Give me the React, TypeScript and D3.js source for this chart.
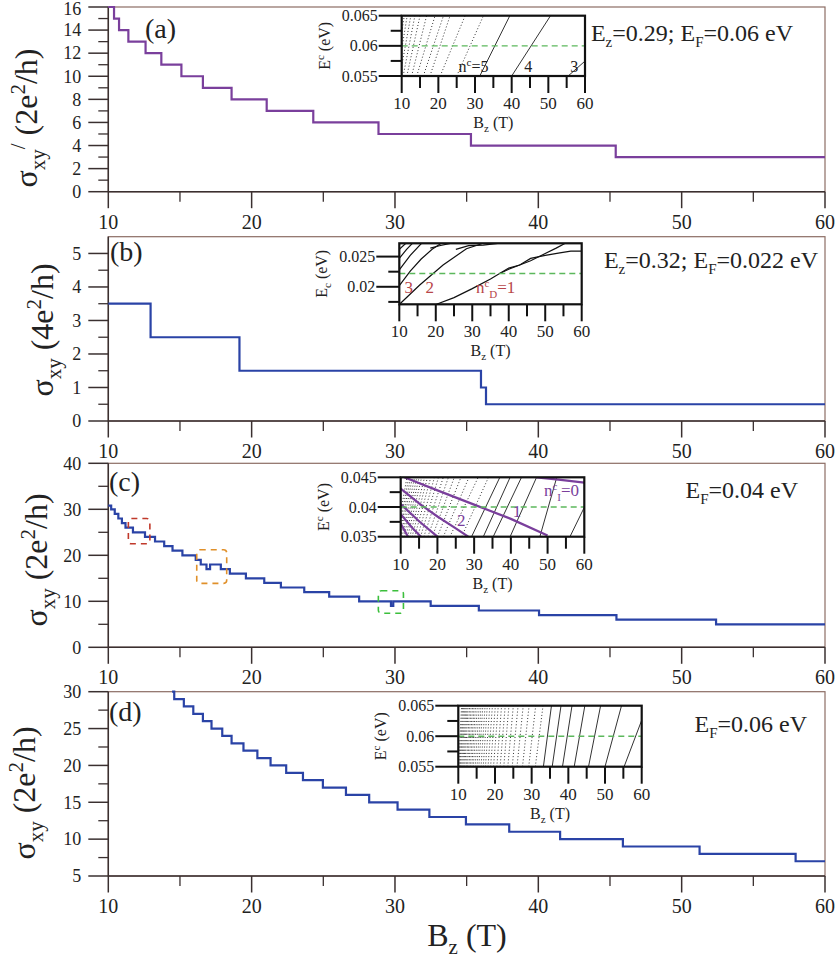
import * as d3 from "d3";

const FONT = "'Liberation Serif', 'Times New Roman', Times, serif";

// main x axis (magnetic field, T)
const bTicks = [10, 20, 30, 40, 50, 60];
const bMinorTicks = [15, 25, 35, 45, 55];

// (a) sigma_xy steps
const aSwitchB = [10, 10.4, 10.75, 11.4, 12.6, 13.7, 15.1, 16.6, 18.6, 21.05, 24.3, 28.85, 35.3, 45.4, 60];
const aLevels = [16, 15, 14, 13, 12, 11, 10, 9, 8, 7, 6, 5, 4, 3, 3];
const aYTicks = [0, 2, 4, 6, 8, 10, 12, 14, 16];
const aYMinor = [1, 3, 5, 7, 9, 11, 13, 15];

// (b)
const bSwitchB = [10, 12.95, 19.15, 36.0, 36.35, 60];
const bLevels = [3.5, 2.5, 1.5, 1.0, 0.5, 0.5];
const bYTicks = [0, 1, 2, 3, 4, 5];
const bYMinor = [0.5, 1.5, 2.5, 3.5, 4.5];

// (c)
const cSwitchB = [10, 10.2, 10.45, 10.7, 10.95, 11.2, 11.72, 12.56, 13.26, 13.9, 14.48, 15.17, 16.1, 16.45, 16.85, 17.1, 17.85, 18.48, 19.6, 20.88, 22.04, 23.67, 25.41, 27.5, 29.72, 29.88, 32.49, 35.85, 40.05, 45.45, 52.4, 60];
const cLevels = [30.8, 30, 29, 28, 27, 26, 25, 24, 23, 22, 21, 20, 19, 18, 17, 18, 17, 16, 15, 14, 13, 12, 11, 10, 9, 10, 9, 8, 7, 6, 5, 5];
const cYTicks = [0, 10, 20, 30, 40];
const cYMinor = [5, 15, 25, 35];
// highlighted regions in (c): [B0, B1, v0, v1]
const cBoxes = [
  { box: [11.4, 12.9, 22.5, 28], color: "#c0392b" },
  { box: [16.17, 18.26, 13.9, 21.2], color: "#e0902a" },
  { box: [28.84, 30.59, 7.4, 12.3], color: "#3cbf3c" },
];

// (d)
const dSwitchB = [14.45, 14.6, 15.27, 15.93, 16.6, 17.2, 17.95, 18.6, 19.43, 20.4, 21.32, 22.41, 23.58, 24.97, 26.58, 28.2, 30.18, 32.4, 34.95, 37.97, 41.52, 45.9, 51.25, 57.95, 60];
const dLevels = [30, 29, 28, 27, 26, 25, 24, 23, 22, 21, 20, 19, 18, 17, 16, 15, 14, 13, 12, 11, 10, 9, 8, 7, 7];
const dYTicks = [5, 10, 15, 20, 25, 30];
const dYMinor = [7.5, 12.5, 17.5, 22.5, 27.5];

// insets: Landau levels, [B at bottom edge, B at top edge]
const insetBTicks = [10, 20, 30, 40, 50, 60];
const insetBMinor = [15, 25, 35, 45, 55];

const aInsetE = [0.055, 0.065];
const aInsetETicks = [0.055, 0.06, 0.065];
const aInsetEMinor = [0.0575, 0.0625];
const aInsetSolid = [[55.4, 74], [40, 50.6], [31.3, 39.5]];
const aInsetDotted = [[25, 32.3], [20.5, 27.3], [17.7, 23.2], [15.9, 21.4], [14.1, 19.1], [12.7, 16.8], [11.4, 15], [10.4, 13.6], [9.5, 12.5], [8.8, 11.5], [8.2, 10.7]];

const bInsetE = [0.0171, 0.0272];
const bInsetETicks = [0.02, 0.025];
const bInsetEMinor = [0.0175, 0.0225];
const bInsetCurves = [
  [[20.2, 0.0171], [25, 0.0182], [30, 0.0197], [35, 0.0213], [37.5, 0.0222], [40, 0.0229], [43, 0.0236], [46, 0.0243], [50, 0.0255], [53, 0.0264], [55.5, 0.0272]],
  [[37.5, 0.0222], [40, 0.0231], [43, 0.0236], [46, 0.0247], [50, 0.0252], [54, 0.0256], [57, 0.0259], [60, 0.0259]],
  [[10.2, 0.0172], [15.6, 0.0203], [22, 0.0236], [28.4, 0.0263], [33, 0.0272]],
  [[25.5, 0.0262], [29, 0.0268], [33, 0.0269], [37, 0.0272]],
  [[10, 0.0202], [13, 0.0226], [16, 0.0246], [19, 0.0262], [21.5, 0.0272]],
  [[18.5, 0.0264], [21, 0.0268], [24, 0.0272]],
  [[10, 0.0228], [13, 0.0252], [16.1, 0.0272]],
  [[10, 0.0247], [12, 0.0262], [13.6, 0.0272]],
  [[10, 0.0262], [11.8, 0.0272]],
];

const cInsetE = [0.035, 0.045];
const cInsetETicks = [0.035, 0.04, 0.045];
const cInsetEMinor = [0.0375, 0.0425];
const cInsetSolid = [[56.1, 64], [47.9, 52.5], [39.8, 47], [35.2, 42.9], [32.5, 39.8], [29.3, 37]];
const cInsetDotted = [[26.6, 33.9], [23.4, 31.1], [21.6, 28.6], [20, 26.4], [18.6, 24.6], [17.4, 23], [16.3, 21.6], [15.4, 20.3], [14.6, 19.2], [13.8, 18.2], [13.1, 17.3], [12.5, 16.5], [11.9, 15.7], [11.4, 15], [10.9, 14.4], [10.4, 13.8], [10, 13.2], [9.6, 12.7], [9.2, 12.2], [8.8, 11.7]];
const cInsetPurple = [
  [[47, 0.045], [53, 0.0446], [60, 0.0441]],
  [[11, 0.045], [20, 0.0428], [30, 0.0404], [40, 0.038], [50, 0.0352]],
  [[10, 0.0431], [15, 0.0406], [20, 0.0384], [25, 0.0364], [28.4, 0.035]],
  [[10, 0.0405], [15, 0.0376], [20, 0.035]],
  [[10, 0.0388], [13, 0.0366], [15.5, 0.035]],
  [[10, 0.0372], [12, 0.035]],
];

const dInsetE = [0.055, 0.065];
const dInsetETicks = [0.055, 0.06, 0.065];
const dInsetEMinor = [0.0575, 0.0625];
const dInsetSolid = [[55.2, 61.5], [50, 54.5], [45.5, 48.8], [41.6, 44.5], [38.4, 41], [35.6, 38], [33.2, 35.4]];
const dInsetDotted = [[31, 33.1], [29.2, 31.1], [27.5, 29.3], [26, 27.7], [24.7, 26.3], [23.5, 25], [22.4, 23.8], [21.4, 22.8], [20.5, 21.8], [19.6, 20.9], [18.8, 20.1], [18.1, 19.3], [17.4, 18.6], [16.8, 17.9], [16.2, 17.3], [15.6, 16.7], [15.1, 16.2], [14.6, 15.7], [14.1, 15.2], [13.7, 14.7], [13.3, 14.3], [12.9, 13.9], [12.5, 13.5], [12.2, 13.1], [11.8, 12.7], [11.5, 12.4], [11.2, 12.1], [10.9, 11.8], [10.6, 11.5], [10.4, 11.2], [10.1, 10.9]];

const PURPLE = "#7a3f9c";
const BLUE = "#2a43a6";
const RED = "#b8464a";
const GREEN = "#5cb85c";
const AXIS = "#3a3030";
const FRAME = "#8c6d64";

const xMain = d3.scaleLinear().domain([10, 60]).range([108.3, 825]);

// parts: [text, "sub" | "sup" | undefined]; builds tspans with baseline shifts
function rich(parts, small, subShift, supShift) {
  let cur = 0;
  return parts.map(([txt, kind], i) => {
    const target = kind === "sub" ? subShift : kind === "sup" ? supShift : 0;
    const dy = target - cur;
    cur = target;
    return (
      <tspan key={i} dy={dy || undefined} fontSize={kind ? small : undefined}>
        {txt}
      </tspan>
    );
  });
}

function MainPanel({ top, bottom, yDomain, yTicks, yMinor, switchB, levels, color, label, labelX, labelY, note, noteX, noteY, title, titleX, titleY, children }) {
  const y = d3.scaleLinear().domain(yDomain).range([bottom, top]);
  const pts = switchB.map((b, i) => [b, levels[i]]);
  const line = d3
    .line()
    .x((d) => xMain(d[0]))
    .y((d) => y(d[1]))
    .curve(d3.curveStepAfter);
  const x0 = xMain(10);
  const x1 = xMain(60);
  return (
    <g>
      <rect x={x0} y={top} width={x1 - x0} height={bottom - top} fill="none" stroke={FRAME} strokeWidth={1.2} />
      <line x1={x0} x2={x0} y1={top} y2={bottom} stroke={AXIS} strokeWidth={1.5} />
      <line x1={x0} x2={x1} y1={bottom} y2={bottom} stroke={AXIS} strokeWidth={1.5} />
      {yTicks.map((t) => (
        <g key={"y" + t}>
          <line x1={x0 - 20} x2={x0} y1={y(t)} y2={y(t)} stroke={AXIS} strokeWidth={1.5} />
          <text x={x0 - 27} y={Math.max(y(t), 8.5)} dy="0.35em" textAnchor="end" fontSize={18} fill="#222">{t}</text>
        </g>
      ))}
      {yMinor.map((t) => (
        <line key={"ym" + t} x1={x0 - 10} x2={x0} y1={y(t)} y2={y(t)} stroke={AXIS} strokeWidth={1.3} />
      ))}
      {bTicks.map((t) => (
        <g key={"x" + t}>
          <line x1={xMain(t)} x2={xMain(t)} y1={bottom} y2={bottom + 16.5} stroke={AXIS} strokeWidth={1.5} />
          <text x={xMain(t)} y={bottom + 30} dy="0.35em" textAnchor="middle" fontSize={20} fill="#222">{t}</text>
        </g>
      ))}
      {bMinorTicks.map((t) => (
        <line key={"xm" + t} x1={xMain(t)} x2={xMain(t)} y1={bottom} y2={bottom + 10} stroke={AXIS} strokeWidth={1.3} />
      ))}
      <path d={line(pts)} fill="none" stroke={color} strokeWidth={2.2} />
      {children ? children(y) : null}
      <text x={labelX} y={labelY} fontSize={28} fill="#222">{label}</text>
      <text x={noteX} y={noteY} textAnchor="end" fontSize={24} fill="#222">{note}</text>
      <text transform={`translate(${titleX},${titleY}) rotate(-90)`} textAnchor="middle" fontSize={32} fill="#222">{title}</text>
    </g>
  );
}

function Inset({ id, x0, x1, y0, y1, eDomain, eTicks, eMinor, ef, lines, subC, children }) {
  const sx = d3.scaleLinear().domain([10, 60]).range([x0, x1]);
  const sy = d3.scaleLinear().domain(eDomain).range([y1, y0]);
  const line = d3.line().x((d) => sx(d[0])).y((d) => sy(d[1]));
  return (
    <g>
      <defs>
        <clipPath id={id}>
          <rect x={x0} y={y0} width={x1 - x0} height={y1 - y0} />
        </clipPath>
      </defs>
      <rect x={x0} y={y0} width={x1 - x0} height={y1 - y0} fill="white" />
      <g clipPath={`url(#${id})`}>
        {lines.map((l, i) => (
          <path key={i} d={line(l.pts)} fill="none" stroke={l.color} strokeWidth={l.width} strokeDasharray={l.dash} />
        ))}
        <line x1={x0} x2={x1} y1={sy(ef)} y2={sy(ef)} stroke={GREEN} strokeWidth={1.4} strokeDasharray="6,4" />
      </g>
      <rect x={x0} y={y0} width={x1 - x0} height={y1 - y0} fill="none" stroke="#111" strokeWidth={2.2} />
      {eTicks.map((t) => (
        <g key={"e" + t}>
          <line x1={x0 - 23} x2={x0} y1={sy(t)} y2={sy(t)} stroke="#111" strokeWidth={2} />
          <text x={x0 - 24} y={sy(t)} dy="0.35em" textAnchor="end" fontSize={16} fill="#222">{String(t)}</text>
        </g>
      ))}
      {eMinor.map((t) => (
        <line key={"em" + t} x1={x0 - 11} x2={x0} y1={sy(t)} y2={sy(t)} stroke="#111" strokeWidth={2} />
      ))}
      {insetBTicks.map((t) => (
        <g key={"b" + t}>
          <line x1={sx(t)} x2={sx(t)} y1={y1} y2={y1 + 17} stroke="#111" strokeWidth={2} />
          <text x={sx(t)} y={y1 + 27} dy="0.35em" textAnchor="middle" fontSize={17} fill="#222">{t}</text>
        </g>
      ))}
      {insetBMinor.map((t) => (
        <line key={"bm" + t} x1={sx(t)} x2={sx(t)} y1={y1} y2={y1 + 12} stroke="#111" strokeWidth={2} />
      ))}
      <text x={(x0 + x1) / 2} y={y1 + 52} textAnchor="middle" fontSize={16} fill="#222">
        {rich([["B"], ["z", "sub"], [" (T)"]], 11, 4, -6)}
      </text>
      <text transform={`translate(${x0 - 72},${(y0 + y1) / 2}) rotate(-90)`} textAnchor="middle" fontSize={16} fill="#222">
        {rich([["E"], ["c", subC ? "sub" : "sup"], [" (eV)"]], 11, 4, -6)}
      </text>
      {children(sx, sy)}
    </g>
  );
}

function pairsToLines(pairs, eDomain, style) {
  return pairs.map((p) => ({ pts: [[p[0], eDomain[0]], [p[1], eDomain[1]]], ...style }));
}

export default function App() {
  const solidThin = { color: "#333", width: 1, dash: undefined };
  const dotted = { color: "#333", width: 1, dash: "1,2.2" };
  const aLines = [...pairsToLines(aInsetSolid, aInsetE, solidThin), ...pairsToLines(aInsetDotted, aInsetE, dotted)];
  const bLines = bInsetCurves.map((pts) => ({ pts, color: "#111", width: 1.2 }));
  const cLines = [
    ...pairsToLines(cInsetSolid, cInsetE, solidThin),
    ...pairsToLines(cInsetDotted, cInsetE, dotted),
    ...cInsetPurple.map((pts) => ({ pts, color: PURPLE, width: 2.2 })),
  ];
  const dLines = [...pairsToLines(dInsetSolid, dInsetE, solidThin), ...pairsToLines(dInsetDotted, dInsetE, dotted)];
  const sigmaTitle = (unit, prime) =>
    rich(
      prime
        ? [["σ"], ["xy", "sub"], ["/", "sup"], [" (" + unit + "e"], ["2", "sup"], ["/h)"]]
        : [["σ"], ["xy", "sub"], [" (" + unit + "e"], ["2", "sup"], ["/h)"]],
      21,
      8,
      -12
    );

  return (
    <svg width={839} height={960} style={{ position: "absolute", left: 0, top: 0, background: "white", fontFamily: FONT }} fontFamily={FONT}>
      <style>{`text, tspan { font-family: ${FONT}; }`}</style>
      <MainPanel
        top={7} bottom={191.7} yDomain={[0, 16]} yTicks={aYTicks} yMinor={aYMinor}
        switchB={aSwitchB} levels={aLevels} color={PURPLE} label="(a)" labelX={145} labelY={38}
        noteX={793} noteY={41}
        note={rich([["E"], ["z", "sub"], ["=0.29; E"], ["F", "sub"], ["=0.06 eV"]], 15, 6, -9)}
        titleX={37} titleY={118}
        title={sigmaTitle("2", true)}
      />
      <MainPanel
        top={236.7} bottom={421} yDomain={[0, 5.5]} yTicks={bYTicks} yMinor={bYMinor}
        switchB={bSwitchB} levels={bLevels} color={BLUE} label="(b)" labelX={110} labelY={261}
        noteX={818} noteY={268}
        note={rich([["E"], ["z", "sub"], ["=0.32; E"], ["F", "sub"], ["=0.022 eV"]], 15, 6, -9)}
        titleX={53} titleY={330}
        title={sigmaTitle("4", false)}
      />
      <MainPanel
        top={463.3} bottom={647.3} yDomain={[0, 40]} yTicks={cYTicks} yMinor={cYMinor}
        switchB={cSwitchB} levels={cLevels} color={BLUE} label="(c)" labelX={109} labelY={491}
        noteX={798} noteY={498}
        note={rich([["E"], ["F", "sub"], ["=0.04 eV"]], 15, 6, -9)}
        titleX={47} titleY={560}
        title={sigmaTitle("2", false)}
      >
        {(y) =>
          cBoxes.map(({ box, color }, i) => (
            <rect
              key={i}
              x={xMain(box[0])}
              y={y(box[3])}
              width={xMain(box[1]) - xMain(box[0])}
              height={y(box[2]) - y(box[3])}
              rx={3}
              fill="none"
              stroke={color}
              strokeWidth={1.6}
              strokeDasharray="6,5"
            />
          ))
        }
      </MainPanel>
      <MainPanel
        top={691.7} bottom={876} yDomain={[5, 30]} yTicks={dYTicks} yMinor={dYMinor}
        switchB={dSwitchB} levels={dLevels} color={BLUE} label="(d)" labelX={109} labelY={721}
        noteX={807} noteY={732}
        note={rich([["E"], ["F", "sub"], ["=0.06 eV"]], 15, 6, -9)}
        titleX={35} titleY={793}
        title={sigmaTitle("2", false)}
      />

      <Inset id="ia" x0={401.7} x1={585} y0={15.7} y1={76} eDomain={aInsetE} eTicks={aInsetETicks} eMinor={aInsetEMinor} ef={0.06} lines={aLines}>
        {(sx, sy) => (
          <g fontSize={16} fill="#222">
            <text x={sx(25.5)} y={sy(0.0557)}>{rich([["n"], ["c", "sup"], ["=5"]], 11, 4, -6)}</text>
            <text x={sx(43.4)} y={sy(0.0557)}>4</text>
            <text x={sx(56)} y={sy(0.0557)}>3</text>
          </g>
        )}
      </Inset>
      <Inset id="ib" x0={399.3} x1={581.7} y0={243.3} y1={304.3} eDomain={bInsetE} eTicks={bInsetETicks} eMinor={bInsetEMinor} ef={0.0222} lines={bLines} subC>
        {(sx, sy) => (
          <g fontSize={17} fill={RED}>
            <text x={sx(11.4)} y={sy(0.0189)}>3</text>
            <text x={sx(17.2)} y={sy(0.0189)}>2</text>
            <text x={sx(31)} y={sy(0.0189)}>{rich([["n"], ["c", "sup"], ["D", "sub"], ["=1"]], 11, 5, -6)}</text>
          </g>
        )}
      </Inset>
      <Inset id="ic" x0={400.7} x1={584.3} y0={477.3} y1={536.7} eDomain={cInsetE} eTicks={cInsetETicks} eMinor={cInsetEMinor} ef={0.04} lines={cLines}>
        {(sx, sy) => (
          <g fontSize={17} fill={PURPLE}>
            <text x={sx(49)} y={sy(0.0418)}>{rich([["n"], ["c", "sup"], ["I", "sub"], ["=0"]], 11, 5, -6)}</text>
            <text x={sx(40.5)} y={sy(0.0384)}>1</text>
            <text x={sx(25.3)} y={sy(0.0368)}>2</text>
          </g>
        )}
      </Inset>
      <Inset id="id" x0={458.3} x1={641.7} y0={705.7} y1={766.7} eDomain={dInsetE} eTicks={dInsetETicks} eMinor={dInsetEMinor} ef={0.06} lines={dLines}>
        {() => null}
      </Inset>

      <text x={467} y={946} textAnchor="middle" fontSize={32} fill="#222">
        {rich([["B"], ["z", "sub"], [" (T)"]], 21, 8, -12)}
      </text>
    </svg>
  );
}
